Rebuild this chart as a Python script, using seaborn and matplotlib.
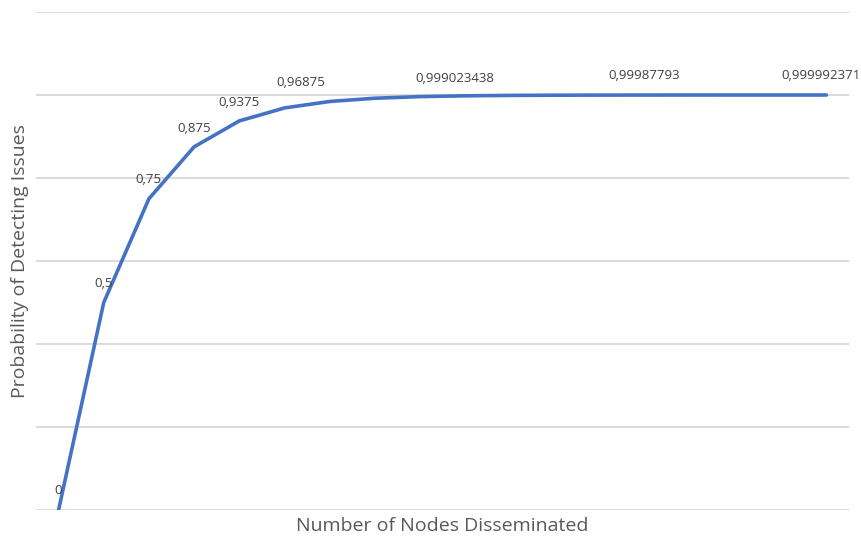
import matplotlib
matplotlib.use("Agg")
import matplotlib.pyplot as plt
import seaborn as sns
import pandas as pd

# Number of nodes disseminated (category index) and detection probability
nodes = [0, 1, 2, 3, 4, 5, 6, 7, 8, 9, 10, 11, 12, 13, 14, 15, 16, 17]
probability = [0, 0.5, 0.75, 0.875, 0.9375, 0.96875, 0.984375, 0.9921875,
               0.99609375, 0.998046875, 0.999023438, 0.999511719, 0.999755859,
               0.99987793, 0.999938965, 0.999969482, 0.999984741, 0.999992371]

# Which points carry a value label, and the label offset (points) from the point
labelled = [0, 1, 2, 3, 4, 5, 10, 13, 17]
label_dx = [0, 0, 0, 0, 0, 12, -40, -1, -4]
label_dy = [14, 14, 14, 13, 13, 18, 12, 14, 14]

df = pd.DataFrame({"nodes": nodes, "probability": probability})

sns.set_theme(style="white")
plt.rcParams["font.family"] = ["Open Sans", "DejaVu Sans"]

fig = plt.figure(figsize=(8.62, 5.37), dpi=100)
ax = fig.add_axes([36 / 862, 1 - 510 / 537, (849 - 36) / 862, (510 - 12) / 537])

sns.lineplot(data=df, x="nodes", y="probability", ax=ax,
             color="#4472C4", linewidth=2.6, solid_joinstyle="round")

ax.set_xlim(-0.5, len(nodes) - 0.5)
ax.set_ylim(0, 1.2)
ax.set_yticks([0, 0.2, 0.4, 0.6, 0.8, 1.0, 1.2])
ax.yaxis.grid(True, color="#D4D4D4", linewidth=1.2)
ax.set_axisbelow(True)
ax.tick_params(left=False, bottom=False, labelleft=False, labelbottom=False)
for s in ax.spines.values():
    s.set_visible(False)

for i, dx, dy in zip(labelled, label_dx, label_dy):
    v = probability[i]
    txt = f"{v:.9g}".replace(".", ",")
    ax.annotate(txt, (nodes[i], v), xytext=(dx, dy), textcoords="offset points",
                ha="center", va="center", fontsize=9.5, color="#404040")

ax.set_xlabel("")
ax.set_ylabel("")
fig.text(442 / 862, 1 - 526 / 537, "Number of Nodes Disseminated",
         ha="center", va="center", fontsize=14, color="#595959")
fig.text(20 / 862, 1 - 261 / 537, "Probability of Detecting Issues",
         ha="center", va="center", rotation=90, fontsize=14, color="#595959")

fig.savefig("out.png", dpi=100, facecolor="white")
